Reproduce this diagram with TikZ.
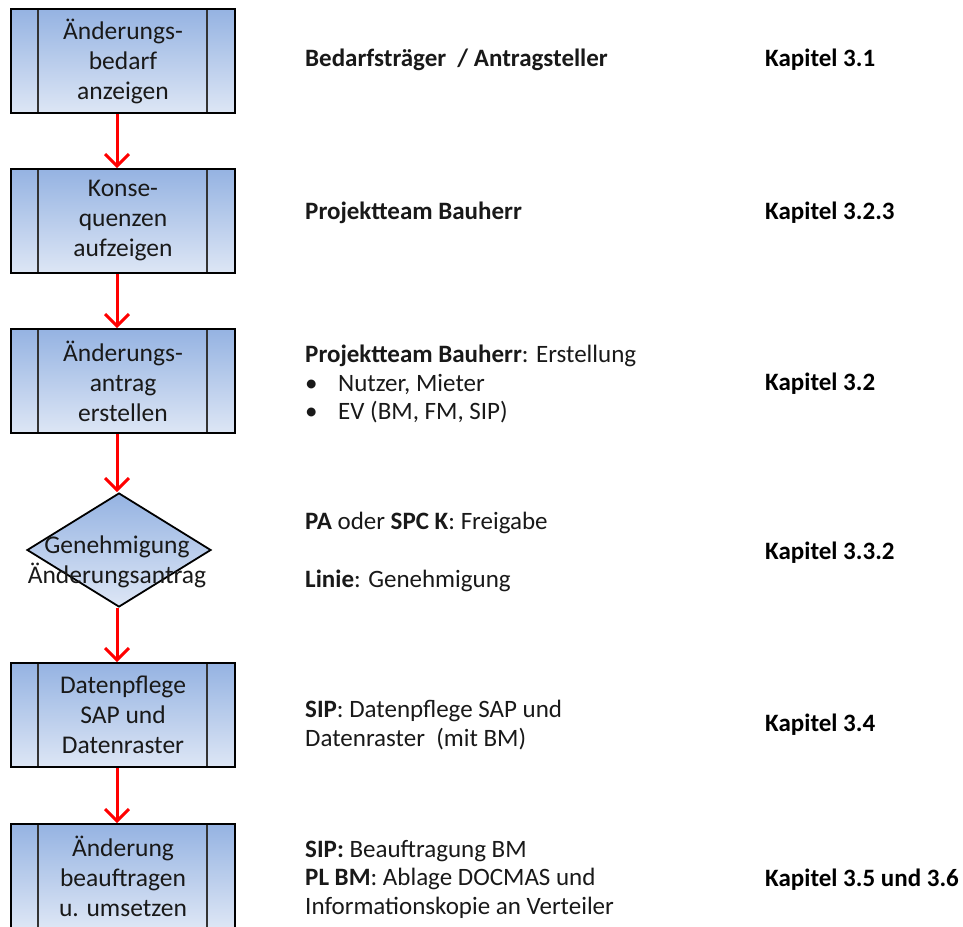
\documentclass[tikz,border=0pt]{standalone}
\usepackage{fontspec}
\setmainfont{Carlito}
\usetikzlibrary{positioning,shapes.geometric,arrows.meta}
\definecolor{blauoben}{RGB}{149,179,226}
\definecolor{blauunten}{RGB}{221,230,245}
\tikzset{
  schritt/.style={draw=black, line width=2pt, top color=blauoben, bottom color=blauunten,
    minimum width=224pt, minimum height=104pt, inner sep=0pt, align=center,
    font=\fontsize{25.5}{30}\selectfont, text=black!90,
    path picture={
      \draw[line width=1.5pt, black!80]
        ([xshift=27pt]path picture bounding box.north west) -- ([xshift=27pt]path picture bounding box.south west)
        ([xshift=-28pt]path picture bounding box.north east) -- ([xshift=-28pt]path picture bounding box.south east);
    }},
  entscheidung/.style={diamond, draw=black, line width=1.8pt, top color=blauoben, bottom color=blauunten,
    minimum width=184pt, minimum height=114pt, inner sep=0pt},
  pfeil/.style={draw=red, line width=3pt, -{Straight Barb[length=7pt,width=14pt,scale=1.7]}},
  rolle/.style={anchor=west, align=left, inner sep=0pt, text=black!90,
    font=\fontsize{25}{28.5}\selectfont},
  kapitel/.style={anchor=west, inner sep=0pt, font=\fontsize{25}{28.5}\selectfont\bfseries}
}
\begin{document}
\begin{tikzpicture}[x=1pt,y=-1pt]
  \useasboundingbox (0,0) rectangle (963,926);
  \clip (0,0) rectangle (963,926);

  % Ablauf
  \node[schritt] (s1) at (123,61)  {Änderungs-\\bedarf\\anzeigen};
  \node[schritt] (s2) at (123,221) {Konse-\\quenzen\\aufzeigen};
  \node[schritt] (s3) at (123,381) {Änderungs-\\antrag\\erstellen};
  \node[entscheidung] (s4) at (119,550) {};
  \node[inner sep=0pt, align=center, text=black!90, font=\fontsize{25.5}{30}\selectfont]
    (s4text) at (117,562) {Genehmigung\\Änderungsantrag};
  \node[schritt] (s5) at (123,715) {Datenpflege\\SAP und\\Datenraster};
  \node[schritt] (s6) at (123,876) {Änderung\\beauftragen\\u. umsetzen};

  \draw[pfeil] ([xshift=-6pt]s1.south) -- ([xshift=-6pt]s2.north);
  \draw[pfeil] ([xshift=-6pt]s2.south) -- ([xshift=-6pt]s3.north);
  \draw[pfeil] ([xshift=-6pt]s3.south) -- ([xshift=-2pt]s4.north);
  \draw[pfeil] ([xshift=-2pt]s4.south) -- ([xshift=-6pt]s5.north);
  \draw[pfeil] ([xshift=-6pt]s5.south) -- ([xshift=-6pt]s6.north);

  % Zustaendigkeit
  \node[rolle] (r1) at (305,60)  {\textbf{Bedarfsträger \ / Antragsteller}};
  \node[rolle] (r2) at (305,213) {\textbf{Projektteam Bauherr}};
  \node[rolle] (r3) at (305,384) {\textbf{Projektteam Bauherr}: Erstellung\\
    \makebox[33pt][l]{\textbullet}Nutzer, Mieter\\
    \makebox[33pt][l]{\textbullet}EV (BM, FM, SIP)};
  \node[rolle] (r4) at (305,552) {\textbf{PA} oder \textbf{SPC\ K}: Freigabe\\[29pt]
    \textbf{Linie}: Genehmigung};
  \node[rolle] (r5) at (305,725) {\textbf{SIP}: Datenpflege SAP und\\Datenraster \ (mit BM)};
  \node[rolle] (r6) at (305,879) {\textbf{SIP:} Beauftragung BM\\
    \textbf{PL BM}: Ablage DOCMAS und\\Informationskopie an Verteiler};

  % Kapitel
  \node[kapitel] (k1) at (765,60)  {Kapitel 3.1};
  \node[kapitel] (k2) at (765,213) {Kapitel 3.2.3};
  \node[kapitel] (k3) at (765,384) {Kapitel 3.2};
  \node[kapitel] (k4) at (765,553) {Kapitel 3.3.2};
  \node[kapitel] (k5) at (765,725) {Kapitel 3.4};
  \node[kapitel] (k6) at (765,880) {Kapitel 3.5 und 3.6};
\end{tikzpicture}
\end{document}
